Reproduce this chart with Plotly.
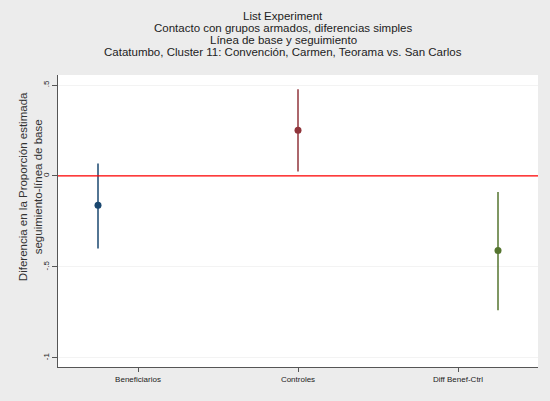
import plotly.graph_objects as go

# datos
grupos = ["Beneficiarios", "Controles", "Diff Benef-Ctrl"]
grupo_num = [1, 2, 3]
estimado = [-0.161, 0.251, -0.41]
ic_inf = [-0.399, 0.024, -0.738]
ic_sup = [0.068, 0.476, -0.088]
colores = ["#1a476f", "#90353b", "#55752f"]

y_ticks = [0.5, 0, -0.5, -1]
y_tick_text = [".5", "0", "-.5", "-1"]

fig = go.Figure()

for i in range(len(grupos)):
    fig.add_trace(go.Scatter(
        x=[grupo_num[i]],
        y=[estimado[i]],
        mode="markers",
        marker=dict(color=colores[i], size=7),
        error_y=dict(
            type="data",
            symmetric=False,
            array=[ic_sup[i] - estimado[i]],
            arrayminus=[estimado[i] - ic_inf[i]],
            color=colores[i],
            thickness=1.5,
            width=0,
        ),
        name=grupos[i],
        showlegend=False,
    ))

# línea roja en cero
fig.add_shape(type="line", xref="paper", yref="y", x0=0, x1=1, y0=0, y1=0,
              line=dict(color="red", width=1.3))

titulos = [
    "List Experiment",
    "Contacto con grupos armados, diferencias simples",
    "Línea de base y seguimiento",
    "Catatumbo, Cluster 11: Convención, Carmen, Teorama vs. San Carlos",
]
for k, t in enumerate(titulos):
    fig.add_annotation(text=t, xref="paper", yref="paper", x=0.5, y=1,
                       xshift=-15, yshift=75 - 16 - 12 * k, yanchor="middle",
                       showarrow=False,
                       font=dict(family="Liberation Sans", size=11.5, color="#222"))

fig.add_annotation(text="Diferencia en la Proporción estimada<br>seguimiento-línea de base",
                   xref="paper", yref="paper", x=0, y=0.616, xanchor="center",
                   yanchor="middle", xshift=-28, textangle=-90, showarrow=False,
                   font=dict(family="Liberation Sans", size=11.5, color="#333"))

fig.update_layout(
    width=550, height=401,
    margin=dict(l=58, r=12, t=75, b=34),
    paper_bgcolor="#ececec",
    plot_bgcolor="white",
    font=dict(family="Liberation Sans", color="#222"),
    xaxis=dict(
        range=[0.8, 3.2],
        tickvals=[1.2, 2, 2.8],
        ticktext=grupos,
        ticks="outside", ticklen=4, tickcolor="#555",
        showline=True, linecolor="#555", linewidth=1,
        showgrid=False, zeroline=False,
        tickfont=dict(size=8, color="#222"),
    ),
    yaxis=dict(
        range=[-1.05, 0.555],
        tickvals=y_ticks,
        ticktext=y_tick_text,
        tickangle=-90,
        ticks="outside", ticklen=5, tickcolor="#555",
        showline=True, linecolor="#555", linewidth=1,
        showgrid=True, gridcolor="#f3f3f3", gridwidth=1,
        zeroline=False,
        tickfont=dict(size=8, color="#222"),
    ),
)

# quitar el margen por defecto de la página
fig.write_html("out.html", config={"displayModeBar": False},
               post_script="document.body.style.margin='0';")
